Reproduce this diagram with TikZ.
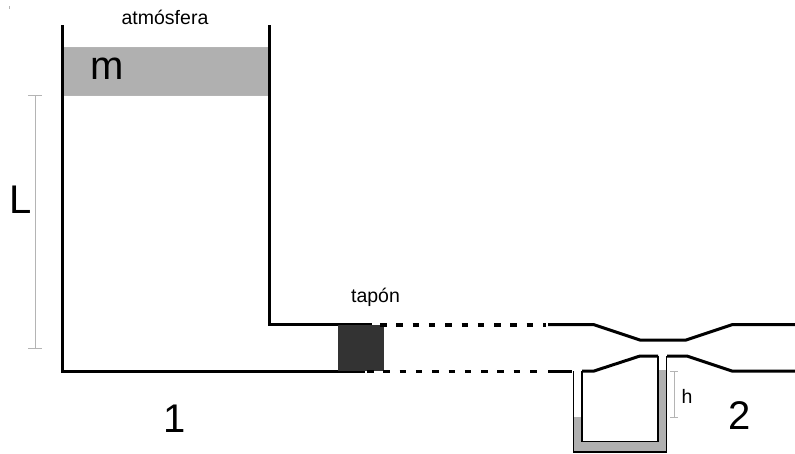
\documentclass[tikz,border=0pt]{standalone}
\usepackage{fontspec}
\setmainfont{Liberation Sans}
\definecolor{fluid}{HTML}{B0B0B0}
\definecolor{plug}{HTML}{333333}
\definecolor{dim}{HTML}{B4B4B4}
\tikzset{
  wall/.style={draw=black,line width=3pt,line join=miter},
  dashwall/.style={draw=black,line width=3.2pt,dash pattern=on 6.5pt off 9.8pt},
  dimline/.style={draw=dim,line width=1pt},
  big/.style={inner sep=0pt,font=\fontsize{40}{40}\selectfont},
  small/.style={inner sep=0pt,font=\fontsize{19.5}{19.5}\selectfont}
}
\begin{document}
\begin{tikzpicture}[x=1pt,y=-1pt]
\useasboundingbox (0,0) rectangle (795,453);
\fill[white] (0,0) rectangle (795,453);
% piston
\fill[fluid] (62,47) rectangle (270,95);
\draw[draw=dim,line width=.8pt] (62,47) -- (270,47) (62,95) -- (270,95);
% reservoir
\draw[wall] (62,25) -- (62,371.5) -- (365,371.5);
\draw[wall] (269.5,25) -- (269.5,324.7) -- (372,324.7);
% plug
\node[fill=plug,minimum width=46pt,minimum height=46pt,inner sep=0pt,anchor=north west] (plugbox) at (338,325) {};
% dashes
\draw[dashwall] (380,325) -- (546,325);
\draw[dashwall] (367,371.5) -- (546,371.5);
% manometer fluid
\fill[fluid] (573.5,417) -- (582,417) -- (582,441.5) -- (658,441.5) -- (658,370) -- (666.5,370) -- (666.5,452) -- (573.5,452) -- cycle;
% venturi
\draw[wall] (548,324.7) -- (594,324.7) -- (640,340) -- (686,340) -- (732,324.7) -- (795,324.7);
\draw[wall] (548,371) -- (572,371);
\draw[wall] (582,371) -- (594,371) -- (640,356) -- (658,356);
\draw[wall] (667,356) -- (687,356) -- (732,371) -- (795,371);
% manometer walls
\draw[black,line width=1.5pt] (573.5,371) -- (573.5,452) -- (666.7,452) -- (666.7,356);
\draw[black,line width=1.5pt] (582,371) -- (582,441.5) -- (658,441.5) -- (658,356);
% dimensions
\draw[dimline] (35,95) -- (35,348) (28,95) -- (42,95) (28,348) -- (42,348);
\draw[dimline] (674,371) -- (674,417) (670,371) -- (678,371) (670,417) -- (678,417);
\draw[dim,line width=.6pt] (9,6) -- (9,9);
% labels
\node[small] (atm) at (165,17) {atmósfera};
\node[inner sep=0pt,font=\fontsize{40}{40}\selectfont] (m) at (107.5,69) {m};
\node[big] (L) at (21,200) {L};
\node[small] (tapon) at (375.5,297) {tapón};
\node[big] (one) at (175,419) {1};
\node[big] (two) at (740,416) {2};
\node[small] (h) at (687,396) {h};
\end{tikzpicture}
\end{document}
